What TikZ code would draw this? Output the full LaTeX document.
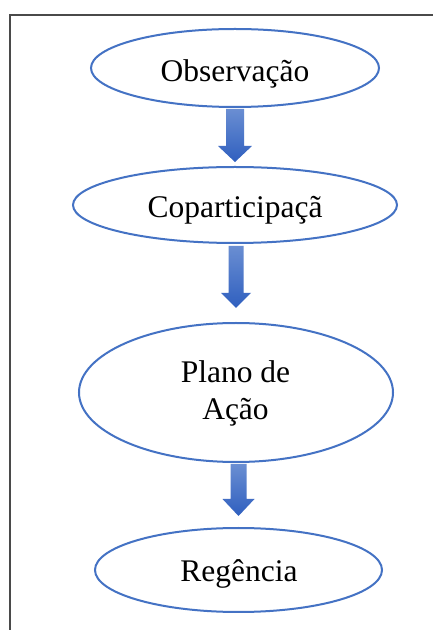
\documentclass[tikz,border=0pt]{standalone}
\usepackage{fontspec}
\setmainfont{Liberation Serif}
\usetikzlibrary{shapes.geometric,calc}
\definecolor{edgeblue}{HTML}{4472C4}
\definecolor{arrtop}{HTML}{6A8ED2}
\definecolor{arrbot}{HTML}{2F5FBF}
\definecolor{framegray}{HTML}{4A4A4A}
\tikzset{
  oval/.style={ellipse, draw=edgeblue, line width=2pt, inner sep=0pt, fill=white},
  lbl/.style={anchor=base, inner sep=0pt, font=\fontsize{31.5}{37}\selectfont, align=center},
  arrowshape/.style={top color=arrtop, bottom color=arrbot, draw=none},
  frameline/.style={draw=framegray, line width=1.6pt}
}
\newcommand\blockarrow[7]{%
  \path[arrowshape] let \p1=(#1.south), \p2=(#2.north) in
    (\x2-#5pt,\y1-#3pt) -- (\x2+#5pt,\y1-#3pt) -- (\x2+#5pt,\y2+#4pt+#7pt)
    -- (\x2+#6pt,\y2+#4pt+#7pt) -- (\x2,\y2+#4pt) -- (\x2-#6pt,\y2+#4pt+#7pt)
    -- (\x2-#5pt,\y2+#4pt+#7pt) -- cycle;}
\begin{document}
\begin{tikzpicture}[x=1pt,y=1pt]
\useasboundingbox (0,0) rectangle (432,630);
\fill[white] (0,0) rectangle (432,630);
% frame
\coordinate (fc) at (10,615);
\coordinate (fr) at (433,615);
\coordinate (fb) at (10,-1);
\draw[frameline] (fr) -- (fc) -- (fb);
% ovals
\node[oval, minimum width=288pt, minimum height=78pt] (e1) at (235,562) {};
\node[oval, minimum width=324pt, minimum height=76pt] (e2) at (235,425) {};
\node[oval, minimum width=314pt, minimum height=139pt] (e3) at (236,237.5) {};
\node[oval, minimum width=287pt, minimum height=84pt] (e4) at (238.5,60) {};
% labels
\node[lbl] (t1) at (235,548) {Observação};
\node[lbl] (t2) at (235,412) {Coparticipaçã};
\node[lbl] (t3) at (235.5,210) {Plano de\\Ação};
\node[lbl] (t4) at (239,48) {Regência};
% arrows
\blockarrow{e1}{e2}{1}{4}{9}{17}{16}
\blockarrow{e2}{e3}{2}{14}{7.5}{15}{15}
\blockarrow{e3}{e4}{1}{11}{8}{16}{17}
\end{tikzpicture}
\end{document}
